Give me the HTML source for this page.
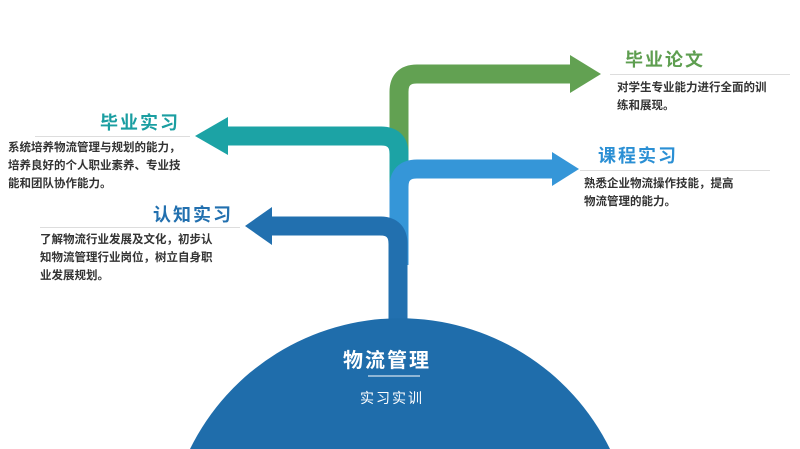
<!DOCTYPE html>
<html style="overflow:hidden;height:449px"><head><meta charset="utf-8"><style>
body{margin:0;width:800px;height:449px;overflow:hidden;background:#fff;font-family:"Liberation Sans","Noto Sans CJK SC",sans-serif;position:relative}
.t{position:absolute;font-weight:bold;font-size:18px;letter-spacing:2px;white-space:nowrap}
.d{position:absolute;font-size:11.5px;line-height:18px;color:#333;font-weight:bold;white-space:nowrap}
.l{position:absolute;height:1px;background:#ddd}
</style></head><body>
<svg width="800" height="449" style="position:absolute;left:0;top:0;display:block">
<g fill="none" stroke-width="19">
<path d="M399 175 V92 Q399 74 417 74 H572" stroke="#62a152"/>
<path d="M399 245 V154 Q399 136 381 136 H226" stroke="#1ca3a5"/>
<path d="M399 265 V187 Q399 169 417 169 H555" stroke="#3596d8"/>
<path d="M398 330 V244 Q398 226 380 226 H270" stroke="#2270af"/>
</g>
<polygon points="570,55 601,74 570,93" fill="#62a152"/>
<polygon points="228,117 195,136 228,155" fill="#1ca3a5"/>
<polygon points="552,152 579,169 552,186" fill="#3596d8"/>
<polygon points="272,207 245,226 272,245" fill="#2270af"/>
<path d="M190 449 A234 234 0 0 1 610 449 Z" fill="#1f6dab"/>
<line x1="368" y1="376" x2="420" y2="376" stroke="#fff" stroke-width="1"/>
</svg>
<div class="t" style="left:343px;top:344px;color:#fff;font-size:20px">物流管理</div>
<div class="t" style="left:360px;top:388px;color:#fff;font-size:14px;font-weight:normal">实习实训</div>
<div class="t" style="left:625px;top:46px;color:#5e9e50">毕业论文</div>
<div class="l" style="left:610px;top:74px;width:180px"></div>
<div class="d" style="left:617px;top:79px">对学生专业能力进行全面的训<br>练和展现。</div>
<div class="t" style="left:598px;top:142px;color:#2a8fd4">课程实习</div>
<div class="l" style="left:580px;top:170px;width:190px"></div>
<div class="d" style="left:584px;top:175px">熟悉企业物流操作技能，提高<br>物流管理的能力。</div>
<div class="t" style="left:100px;top:109px;color:#1a9ea1">毕业实习</div>
<div class="l" style="left:35px;top:136px;width:155px"></div>
<div class="d" style="left:8px;top:139px">系统培养物流管理与规划的能力，<br>培养良好的个人职业素养、专业技<br>能和团队协作能力。</div>
<div class="t" style="left:153px;top:201px;color:#2270af">认知实习</div>
<div class="l" style="left:40px;top:227px;width:200px"></div>
<div class="d" style="left:40px;top:231px">了解物流行业发展及文化，初步认<br>知物流管理行业岗位，树立自身职<br>业发展规划。</div>
</body></html>
